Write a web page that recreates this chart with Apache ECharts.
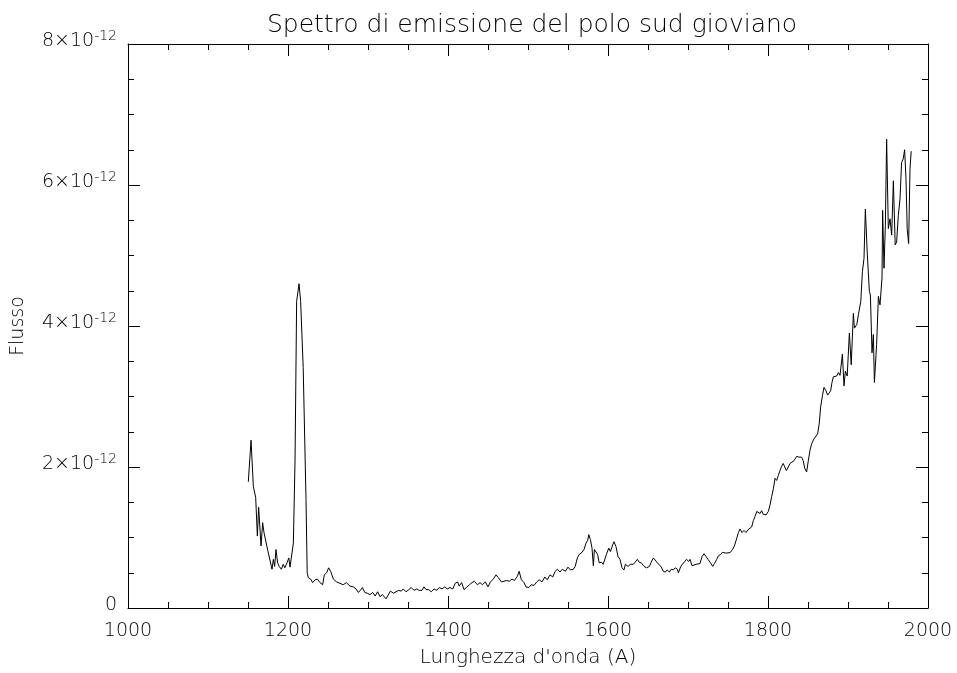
<!DOCTYPE html>
<html>
<head>
<meta charset="utf-8">
<title>Spettro di emissione del polo sud gioviano</title>
<script src="https://cdn.jsdelivr.net/npm/echarts@6/dist/echarts.min.js"></script>
<style>
  html, body { margin: 0; padding: 0; background: #fff; }
  #chart { width: 957px; height: 673px; }
</style>
</head>
<body>
<div id="chart"></div>
<script>
// Wavelength samples (Å)
const wavelength = [
  1150.4, 1153.8, 1156.7, 1159.6, 1161.7, 1163.3, 1166.3, 1168.3, 1170, 1172.5,
  1175, 1177.5, 1180, 1181.7, 1183.3, 1185, 1187, 1189, 1191.7, 1194,
  1196, 1198, 1201, 1202.5, 1204.6, 1206.7, 1208.8, 1210.8, 1213.8, 1215.8,
  1219, 1222.5, 1224, 1225.4, 1228.3, 1230.8, 1233.8, 1236.7, 1240, 1243.3,
  1245.4, 1248.3, 1250.8, 1253.3, 1256.7, 1260.8, 1265, 1269, 1273, 1277.5,
  1281.7, 1285, 1288, 1291, 1293, 1296, 1299, 1302.5, 1306, 1309,
  1312, 1315, 1318, 1322.5, 1325, 1328, 1331.7, 1335, 1338, 1341.7,
  1344, 1347.5, 1351, 1354, 1357.5, 1361, 1364, 1367.5, 1370, 1372.5,
  1376, 1379, 1382.5, 1386, 1389, 1392.5, 1396, 1399, 1402.5, 1406,
  1409, 1412, 1414, 1417, 1420, 1423, 1426.7, 1430, 1433, 1436.7,
  1440, 1443, 1446.7, 1450, 1453, 1456.7, 1460, 1463, 1466.7, 1470,
  1473, 1476.7, 1480, 1483, 1486.7, 1489, 1491.7, 1495, 1497.5, 1501,
  1504, 1507.5, 1511, 1514, 1517.5, 1521, 1524, 1527.5, 1531, 1534,
  1536.7, 1540, 1543, 1546.7, 1550, 1553, 1556.7, 1559, 1561.7, 1564,
  1567.5, 1570, 1572.5, 1574.6, 1576, 1578, 1580, 1581.7, 1583, 1585,
  1587, 1589, 1591.7, 1594, 1596, 1598, 1601, 1603, 1606, 1607.5,
  1610, 1612.5, 1615, 1617.5, 1620, 1621.7, 1625, 1628, 1631.7, 1634,
  1636.7, 1639, 1641.7, 1645, 1648, 1651.7, 1654, 1656.7, 1659, 1661.7,
  1664, 1666.7, 1669, 1671.7, 1674, 1676.7, 1679, 1681.7, 1684, 1686.7,
  1688, 1691, 1693, 1696, 1698, 1701, 1702.5, 1705, 1707.5, 1710,
  1712.5, 1715, 1717.5, 1720, 1722.5, 1725, 1727.5, 1731, 1733, 1736,
  1738, 1741, 1743, 1746.7, 1750, 1753, 1755.7, 1758, 1760.7, 1763,
  1765, 1767.5, 1770, 1772.5, 1775, 1777, 1779.6, 1781.7, 1783.8, 1786,
  1788, 1790, 1792, 1794, 1797.5, 1800.4, 1802.5, 1804.6, 1806.7, 1808.8,
  1810.8, 1812.9, 1815, 1817, 1819, 1821, 1823, 1825.4, 1827.5, 1829.6,
  1832.5, 1835.8, 1839, 1842, 1844, 1846, 1848.3, 1850.4, 1852.5, 1854.6,
  1857.5, 1860, 1862, 1864, 1865.8, 1868, 1870, 1872.5, 1874.6, 1876.7,
  1878.3, 1880, 1881.7, 1883.8, 1885.8, 1888, 1890, 1893, 1895, 1896.7,
  1899, 1901.7, 1904, 1906.7, 1908, 1911, 1913, 1916, 1918, 1920,
  1921.7, 1924, 1926.7, 1928, 1930, 1931.7, 1933, 1935.8, 1938, 1940,
  1942.5, 1943.3, 1945, 1946.7, 1948.3, 1950.4, 1952.5, 1954.6, 1956.7, 1959,
  1960.8, 1962.9, 1965, 1967, 1969, 1970.8, 1972.5, 1974, 1975.8, 1977.5,
  1979
];

// Flux in units of 1e-12
const flux = [
  1.79, 2.38, 1.72, 1.57, 1.02, 1.43, 0.88, 1.21, 1.07, 1.08,
  0.80, 0.78, 0.55, 0.69, 0.59, 0.83, 0.64, 0.59, 0.55, 0.62,
  0.57, 0.62, 0.71, 0.58, 0.59, 0.92, 2.10, 4.35, 4.60, 4.35,
  3.41, 1.54, 0.50, 0.43, 0.41, 0.36, 0.40, 0.41, 0.36, 0.33,
  0.47, 0.50, 0.57, 0.52, 0.41, 0.37, 0.35, 0.33, 0.36, 0.31,
  0.30, 0.27, 0.22, 0.26, 0.29, 0.22, 0.21, 0.19, 0.22, 0.17,
  0.23, 0.16, 0.19, 0.13, 0.18, 0.24, 0.21, 0.23, 0.25, 0.24,
  0.27, 0.23, 0.26, 0.29, 0.25, 0.27, 0.25, 0.25, 0.30, 0.26,
  0.26, 0.23, 0.27, 0.25, 0.29, 0.27, 0.30, 0.27, 0.29, 0.27,
  0.35, 0.37, 0.31, 0.36, 0.26, 0.29, 0.33, 0.36, 0.38, 0.33,
  0.36, 0.33, 0.37, 0.30, 0.37, 0.41, 0.47, 0.43, 0.37, 0.38,
  0.39, 0.38, 0.41, 0.39, 0.45, 0.52, 0.40, 0.36, 0.30, 0.29,
  0.33, 0.32, 0.37, 0.40, 0.37, 0.44, 0.40, 0.47, 0.44, 0.52,
  0.55, 0.51, 0.55, 0.52, 0.58, 0.54, 0.55, 0.59, 0.71, 0.76,
  0.79, 0.83, 0.92, 0.96, 1.04, 0.97, 0.85, 0.60, 0.83, 0.84,
  0.76, 0.64, 0.65, 0.62, 0.64, 0.76, 0.85, 0.80, 0.90, 0.94,
  0.87, 0.73, 0.69, 0.57, 0.54, 0.62, 0.59, 0.62, 0.62, 0.64,
  0.69, 0.65, 0.64, 0.59, 0.57, 0.59, 0.65, 0.71, 0.68, 0.64,
  0.63, 0.58, 0.52, 0.51, 0.54, 0.51, 0.55, 0.54, 0.57, 0.55,
  0.50, 0.59, 0.62, 0.66, 0.69, 0.66, 0.69, 0.60, 0.58, 0.62,
  0.64, 0.63, 0.73, 0.77, 0.73, 0.69, 0.65, 0.59, 0.63, 0.69,
  0.74, 0.76, 0.79, 0.78, 0.78, 0.79, 0.83, 0.88, 0.98, 1.07,
  1.12, 1.07, 1.10, 1.07, 1.11, 1.10, 1.15, 1.24, 1.30, 1.37,
  1.39, 1.34, 1.38, 1.33, 1.32, 1.37, 1.46, 1.58, 1.69, 1.84,
  1.81, 1.88, 1.95, 2.01, 2.05, 2.06, 1.95, 2.00, 2.05, 2.07,
  2.09, 2.15, 2.14, 2.14, 2.09, 1.98, 1.93, 2.09, 2.24, 2.33,
  2.40, 2.42, 2.47, 2.61, 2.85, 3.01, 3.13, 3.08, 3.02, 3.01,
  3.08, 3.20, 3.28, 3.27, 3.29, 3.34, 3.30, 3.60, 3.15, 3.36,
  3.29, 3.90, 3.45, 4.18, 3.97, 4.02, 4.16, 4.35, 4.77, 4.96,
  5.66, 5.05, 4.49, 4.44, 3.62, 3.88, 3.20, 3.74, 4.42, 4.30,
  4.68, 5.64, 4.82, 5.43, 6.65, 5.38, 5.52, 5.29, 6.06, 5.15,
  5.19, 5.57, 5.80, 6.32, 6.37, 6.50, 6.08, 5.38, 5.17, 6.23,
  6.48
];

// Axis ticks
const xTicks = [1000, 1200, 1400, 1600, 1800, 2000];
const yTicks = [0, 2, 4, 6, 8];           // × 1e-12
const yExponent = '-12';

const FONT = '"DejaVu Sans", "Liberation Sans", sans-serif';
const INK = '#000';

const points = wavelength.map((w, i) => [w, flux[i]]);

const chart = echarts.init(document.getElementById('chart'), null, { renderer: 'canvas' });

const tickCommon = {
  axisLine: { show: true, onZero: false, lineStyle: { color: INK, width: 1 } },
  axisTick: { show: true, inside: true, length: 12, lineStyle: { color: INK, width: 1 } },
  minorTick: { show: true, splitNumber: 4, length: 6, lineStyle: { color: INK, width: 1 } },
  splitLine: { show: false },
  minorSplitLine: { show: false }
};

const xBase = {
  type: 'value',
  min: xTicks[0],
  max: xTicks[xTicks.length - 1],
  interval: xTicks[1] - xTicks[0],
  ...tickCommon
};

const yBase = {
  type: 'value',
  min: yTicks[0],
  max: yTicks[yTicks.length - 1],
  interval: yTicks[1] - yTicks[0],
  ...tickCommon
};

chart.setOption({
  animation: false,
  backgroundColor: '#fff',
  title: {
    text: 'Spettro di emissione del polo sud gioviano',
    left: 527,
    top: 8,
    textAlign: 'center',
    textStyle: { fontFamily: FONT, fontWeight: 200, fontSize: 25, color: INK }
  },
  grid: { left: 128, right: 29, top: 44, bottom: 61, containLabel: false },
  xAxis: [
    {
      ...xBase,
      position: 'bottom',
      name: "Lunghezza d'onda (A)",
      nameLocation: 'middle',
      nameGap: 40,
      nameTextStyle: { fontFamily: FONT, fontWeight: 200, fontSize: 20, color: INK },
      axisLabel: {
        show: true, margin: 14, fontFamily: FONT, fontWeight: 200, fontSize: 19, color: INK,
        formatter: v => String(v)
      }
    },
    { ...xBase, position: 'top', axisLabel: { show: false } }
  ],
  yAxis: [
    {
      ...yBase,
      position: 'left',
      name: 'Flusso',
      nameLocation: 'middle',
      nameGap: 100,
      nameTextStyle: { fontFamily: FONT, fontWeight: 200, fontSize: 19, color: INK },
      axisLabel: {
        show: true,
        margin: 11,
        padding: [0, 0, 6, 0],
        fontFamily: FONT,
        color: INK,
        formatter: v => v === 0 ? '{m|0}' : '{m|' + v + '×10}{e|' + yExponent + '}',
        rich: {
          m: { fontFamily: FONT, fontWeight: 200, fontSize: 19, lineHeight: 24, color: INK },
          e: { fontFamily: FONT, fontWeight: 200, fontSize: 14, lineHeight: 4, verticalAlign: 'top', color: INK }
        }
      }
    },
    { ...yBase, position: 'right', axisLabel: { show: false } }
  ],
  series: [
    {
      type: 'line',
      xAxisIndex: 0,
      yAxisIndex: 0,
      data: points,
      showSymbol: false,
      symbol: 'none',
      lineStyle: { color: INK, width: 1 },
      emphasis: { disabled: true },
      silent: true
    }
  ]
});
</script>
</body>
</html>
